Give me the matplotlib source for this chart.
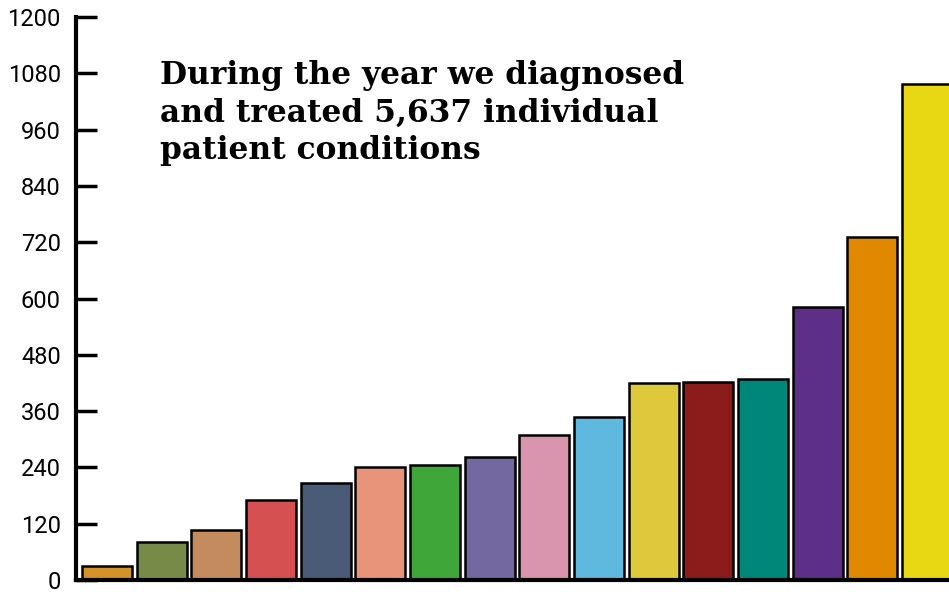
import matplotlib.pyplot as plt
import numpy as np

# Cases per condition group (ascending)
values = [30, 81, 106, 170, 206, 240, 246, 263, 308, 348, 420, 423, 429, 582, 731, 1058]
colors = ['#D4922A', '#788A48', '#C48C5E', '#D55050', '#4A5B78', '#E8947A',
          '#3FA63A', '#7468A0', '#D994AE', '#5FB8DE', '#DEC83C', '#8C1C1C',
          '#00877A', '#5E2F88', '#E08800', '#E8D814']
y_ticks = [0, 120, 240, 360, 480, 600, 720, 840, 960, 1080, 1200]
title = "During the year we diagnosed\nand treated 5,637 individual\npatient conditions"

fig = plt.figure(figsize=(9.49, 5.97), dpi=100)
ax = fig.add_axes([76 / 949, 17 / 597, 1 - 76 / 949, (580 - 17) / 597])

x = np.arange(len(values))
ax.bar(x, values, width=0.915, color=colors, edgecolor='black', linewidth=1.8)

ax.set_xlim(-0.567, 15.40)
ax.set_ylim(0, 1200)
ax.set_yticks(y_ticks)
ax.set_xticks([])

for side in ['top', 'right']:
    ax.spines[side].set_visible(False)
ax.spines['left'].set_linewidth(3)
ax.spines['bottom'].set_linewidth(3)
ax.tick_params(axis='y', direction='in', length=15, width=2.5, pad=11,
               labelsize=17)
for lab in ax.get_yticklabels():
    lab.set_fontfamily('Roboto')

fig.text(160 / 949, 1 - 60 / 597, title, ha='left', va='top',
         fontsize=22.5, fontweight='bold', family='DejaVu Serif',
         linespacing=1.28)

fig.savefig('out.png', dpi=100)
